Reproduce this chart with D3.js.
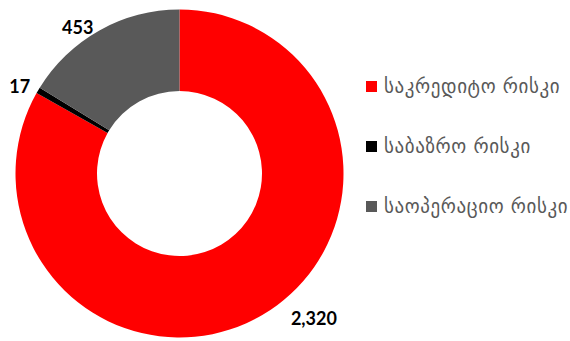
<!DOCTYPE html>
<html>
<head>
<meta charset="utf-8">
<script src="https://cdn.jsdelivr.net/npm/d3@7/dist/d3.min.js"></script>
<style>
  html, body { margin: 0; padding: 0; background: #fff; }
  svg { display: block; }
</style>
</head>
<body>
<svg id="chart" width="570" height="341"></svg>
<script>
// Risk categories and their amounts
const categories = ["საკრედიტო რისკი", "საბაზრო რისკი", "საოპერაციო რისკი"];
const values = [2320, 17, 453];
const valueLabels = ["2,320", "17", "453"];
const colors = ["#ff0000", "#000000", "#595959"];
// label nudges from the outer edge of each slice (dx, dy), and anchor side
const labelNudge = [[28.6, 10], [-8, 2.4], [-6, 3.6]];
const labelAnchor = ["start", "end", "end"];

const svg = d3.select("#chart");
const cx = 179.5, cy = 173.5;
const rOuter = 164, rInner = 82.5;

const pie = d3.pie().sort(null).value(d => d)
  .startAngle(0).endAngle(2 * Math.PI);
const arcs = pie(values);
const arc = d3.arc().innerRadius(rInner).outerRadius(rOuter);

const g = svg.append("g").attr("transform", `translate(${cx},${cy})`);
g.selectAll("path.slice")
  .data(arcs)
  .join("path")
  .attr("class", "slice")
  .attr("d", arc)
  .attr("fill", (d, i) => colors[i]);

// value labels placed outside each slice
g.selectAll("text.val")
  .data(arcs)
  .join("text")
  .attr("class", "val")
  .attr("x", (d, i) => {
    const a = (d.startAngle + d.endAngle) / 2;
    return rOuter * Math.sin(a) + labelNudge[i][0];
  })
  .attr("y", (d, i) => {
    const a = (d.startAngle + d.endAngle) / 2;
    return -rOuter * Math.cos(a) + labelNudge[i][1];
  })
  .attr("text-anchor", (d, i) => labelAnchor[i])
  .attr("font-family", "Lato, 'Open Sans', sans-serif")
  .attr("font-weight", "bold")
  .attr("font-size", 18)
  .attr("fill", "#000")
  .text((d, i) => valueLabels[i]);

// legend
const legend = svg.append("g").attr("transform", "translate(366,0)");
const rowY = d3.scalePoint().domain(categories).range([86.5, 206.5]);
const rows = legend.selectAll("g.row")
  .data(categories)
  .join("g")
  .attr("class", "row")
  .attr("transform", d => `translate(0,${rowY(d)})`);
rows.append("rect")
  .attr("x", 0).attr("y", -5.5)
  .attr("width", 11).attr("height", 11)
  .attr("fill", (d, i) => colors[i]);
rows.append("text")
  .attr("x", 18).attr("y", 6)
  .attr("font-family", "'DejaVu Sans', sans-serif")
  .attr("font-size", 19)
  .attr("letter-spacing", 0.6)
  .attr("fill", "#595959")
  .text(d => d);
</script>
</body>
</html>
